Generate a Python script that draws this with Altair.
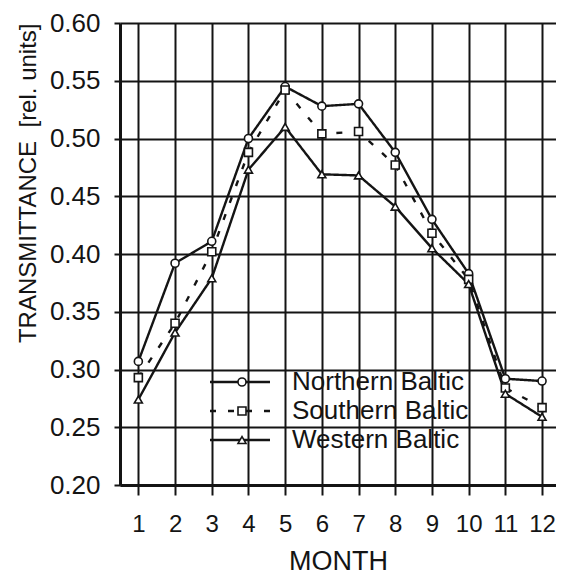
import altair as alt
import pandas as pd

# ---- data ----
months = [1, 2, 3, 4, 5, 6, 7, 8, 9, 10, 11, 12]
northern = [0.307, 0.392, 0.411, 0.500, 0.545, 0.528, 0.530, 0.488, 0.430, 0.383, 0.292, 0.290]
southern = [0.293, 0.340, 0.402, 0.488, 0.542, 0.504, 0.506, 0.477, 0.418, 0.378, 0.284, 0.267]
western = [0.274, 0.332, 0.379, 0.473, 0.510, 0.469, 0.468, 0.441, 0.405, 0.374, 0.279, 0.259]

series_names = ["Northern Baltic", "Southern Baltic", "Western Baltic"]
series_shapes = ["circle", "square", "triangle-up"]
series_dashes = [[1, 0], [6, 12], [1, 0]]

y_ticks = [0.20, 0.25, 0.30, 0.35, 0.40, 0.45, 0.50, 0.55, 0.60]

FONT = "Liberation Sans"
INK = "#141414"

rows = []
for name, vals in zip(series_names, [northern, southern, western]):
    for m, v in zip(months, vals):
        rows.append({"series": name, "month": m, "value": v})
df = pd.DataFrame(rows)
legend_df = pd.DataFrame({"series": series_names})

x_scale = alt.Scale(domain=[0.5, 12.38], nice=False, zero=False)
y_scale = alt.Scale(domain=[0.2, 0.6], nice=False, zero=False)
dash_scale = alt.Scale(domain=series_names, range=series_dashes)
shape_scale = alt.Scale(domain=series_names, range=series_shapes)

x_axis = alt.Axis(
    values=months, format="d", title="MONTH", grid=True,
    tickSize=10, labelPadding=17, labelFontSize=24, titleFontSize=27,
    titlePadding=12, labelOverlap=False, labelFlush=False,
)
y_axis = alt.Axis(
    values=y_ticks, format=".2f", title="TRANSMITTANCE\u00a0\u00a0[rel. units]", grid=True,
    tickSize=6, labelPadding=14, labelFontSize=26, titleFontSize=24,
    titlePadding=9, titleAnchor="end", labelFlush=False,
)

lines = alt.Chart(df).mark_line(color=INK, strokeWidth=2.4).encode(
    x=alt.X("month:Q", scale=x_scale, axis=x_axis),
    y=alt.Y("value:Q", scale=y_scale, axis=y_axis),
    detail="series:N",
    strokeDash=alt.StrokeDash("series:N", scale=dash_scale, legend=None),
)

points = alt.Chart(df).mark_point(
    filled=True, fill="white", stroke=INK, strokeWidth=1.6, size=64, opacity=1
).encode(
    x=alt.X("month:Q", scale=x_scale, axis=x_axis),
    y=alt.Y("value:Q", scale=y_scale, axis=None),
    shape=alt.Shape("series:N", scale=shape_scale, legend=None),
)

leg_y = alt.Y("series:N", scale=alt.Scale(type="point", domain=series_names,
                                           range=[359, 417], padding=0), axis=None)

leg_rule = alt.Chart(legend_df).mark_rule(color=INK, strokeWidth=2.4).encode(
    x=alt.value(90), x2=alt.value(150), y=leg_y,
    strokeDash=alt.StrokeDash("series:N", scale=dash_scale, legend=None),
)
leg_point = alt.Chart(legend_df).mark_point(
    filled=True, fill="white", stroke=INK, strokeWidth=1.6, size=64, opacity=1
).encode(
    x=alt.value(122), y=leg_y,
    shape=alt.Shape("series:N", scale=shape_scale, legend=None),
)
leg_text = alt.Chart(legend_df).mark_text(
    align="left", baseline="middle", font=FONT, fontSize=26, color=INK
).encode(x=alt.value(172), y=leg_y, text="series:N")

chart = alt.layer(lines, points, leg_rule, leg_point, leg_text).resolve_scale(
    y="independent"
).properties(
    width=436, height=462,
    padding={"left": 112, "top": 15, "right": 0, "bottom": 92},
    autosize=alt.AutoSizeParams(type="none"),
    background="white",
).configure_view(strokeWidth=0).configure_axis(
    gridColor=INK, gridWidth=2, gridOpacity=1,
    domainColor=INK, domainWidth=3, tickColor=INK, tickWidth=2,
    labelFont=FONT, titleFont=FONT, labelColor=INK, titleColor=INK,
    titleFontWeight="normal",
)

chart.save("out.html", embed_options={"renderer": "svg", "actions": False})
